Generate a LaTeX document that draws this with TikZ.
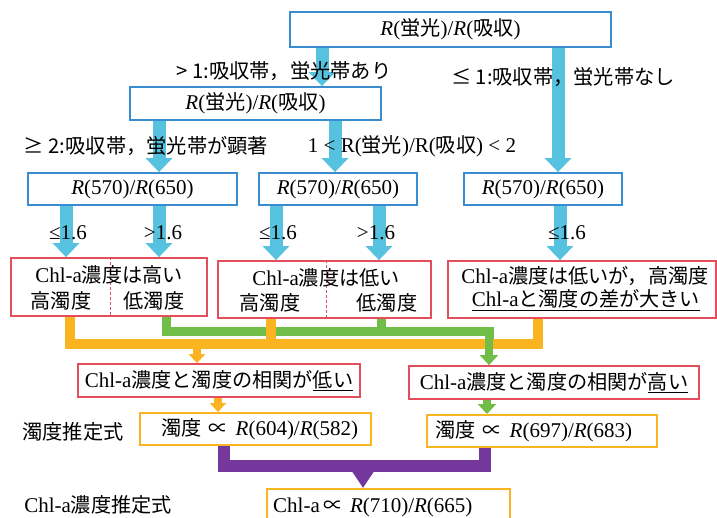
\documentclass[tikz,border=0pt]{standalone}
\usepackage{fontspec}
\setmainfont{Liberation Serif}
\newfontfamily\jp{Noto Sans CJK JP}[Scale=0.96]
\usetikzlibrary{arrows.meta}
\definecolor{bluebd}{RGB}{58,140,208}
\definecolor{arrowblue}{RGB}{86,194,224}
\definecolor{redbd}{RGB}{228,78,92}
\definecolor{orng}{RGB}{250,180,34}
\definecolor{grn}{RGB}{112,190,72}
\definecolor{prpl}{RGB}{116,56,156}
\newcommand\J[1]{{\jp #1}}
\tikzset{
  boxbase/.style={inner sep=0pt, font=\fontsize{21}{24}\selectfont},
  bbox/.style={boxbase, draw=bluebd, line width=1.8pt},
  rbox/.style={boxbase, draw=redbd, line width=1.8pt},
  obox/.style={boxbase, draw=orng, line width=2pt},
  txt/.style={inner sep=0pt, font=\fontsize{21}{24}\selectfont},
  lbl/.style={inner sep=0pt, font=\jp\fontsize{21.1}{24}\selectfont},
  numlbl/.style={inner sep=0pt, font=\fontsize{21}{24}\selectfont},
  barrow/.style={draw=arrowblue, line width=13pt, -{Triangle[width=26pt,length=14pt]}},
  oline/.style={draw=orng, line width=10pt},
  gline/.style={draw=grn, line width=9pt},
  oarrow/.style={draw=orng, line width=8pt, -{Triangle[width=16pt,length=9pt]}},
  garrow/.style={draw=grn, line width=8pt, -{Triangle[width=18pt,length=10pt]}},
  parrow/.style={draw=prpl, line width=12pt, -{Triangle[width=20pt,length=16pt]}},
  pline/.style={draw=prpl, line width=12pt},
  divider/.style={draw=redbd, line width=0.6pt, dash pattern=on 3pt off 2pt},
}
\begin{document}
\begin{tikzpicture}[x=1pt,y=-1pt]
\useasboundingbox[fill=white] (0,0) rectangle (717,518);
\clip (0,0) rectangle (717,518);

% ---- boxes ----
\node[bbox, minimum width=321pt, minimum height=35pt] (top) at (450.5,29.5)
  {\textit{R}(\J{蛍光})/\textit{R}(\J{吸収})};
\node[bbox, minimum width=251pt, minimum height=33pt] (b2) at (255.5,103.5)
  {\textit{R}(\J{蛍光})/\textit{R}(\J{吸収})};
\node[bbox, minimum width=209pt, minimum height=32pt] (b3a) at (132.5,189)
  {\textit{R}(570)/\textit{R}(650)};
\node[bbox, minimum width=158pt, minimum height=32pt] (b3b) at (338,189)
  {\textit{R}(570)/\textit{R}(650)};
\node[bbox, minimum width=158pt, minimum height=32pt] (b3c) at (543,189)
  {\textit{R}(570)/\textit{R}(650)};

\node[rbox, minimum width=196pt, minimum height=58pt] (r4a) at (109,287) {};
\node[rbox, minimum width=213pt, minimum height=57pt] (r4b) at (324.5,289.5) {};
\node[rbox, minimum width=268pt, minimum height=57pt] (r4c) at (582,289.5) {};

\node[rbox, minimum width=282pt, minimum height=33pt] (r5a) at (219,380.5)
  {Chl-a\J{濃度と濁度の相関が}\underline{\J{低い}}};
\node[rbox, minimum width=290pt, minimum height=33pt] (r5b) at (554,382.5)
  {Chl-a\J{濃度と濁度の相関が}\underline{\J{高い}}};

\node[obox, minimum width=231pt, minimum height=32pt] (o6a) at (255.5,429) {};
\node[obox, minimum width=230pt, minimum height=32pt] (o6b) at (542,431) {};
\node[obox, minimum width=243pt, minimum height=42pt] (f7) at (388.5,510) {};

% ---- blue arrows ----
\draw[barrow] (top.south -| 322,0) -- (b2.north -| 322,0);
\draw[barrow] (top.south -| 558,0) -- (b3c.north -| 558,0);
\draw[barrow] (b2.south -| 159,0) -- (b3a.north -| 159,0);
\draw[barrow] (b2.south -| 335,0) -- (b3b.north -| 335,0);
\draw[barrow] (b3a.south -| 66,0) -- (r4a.north -| 66,0);
\draw[barrow] (b3a.south -| 159,0) -- (r4a.north -| 159,0);
\draw[barrow] (b3b.south -| 276,0) -- (r4b.north -| 276,0);
\draw[barrow] (b3b.south -| 379,0) -- (r4b.north -| 379,0);
\draw[barrow] (b3c.south -| 560,0) -- (r4c.north -| 560,0);

% ---- dividers ----
\draw[divider] (r4a.north -| 110,0) -- (r4a.south -| 110,0);
\draw[divider] (r4b.north -| 326,0) -- (r4b.south -| 326,0);

% ---- texts in red boxes ----
\node[txt, anchor=base] (r4a1) at (109,283) {Chl-a\J{濃度は高い}};
\node[txt, anchor=base] (r4a2) at (61,309) {\J{高濁度}};
\node[txt, anchor=base] (r4a3) at (154,309) {\J{低濁度}};
\node[txt, anchor=base] (r4b1) at (326,286) {Chl-a\J{濃度は低い}};
\node[txt, anchor=base] (r4b2) at (270,311) {\J{高濁度}};
\node[txt, anchor=base] (r4b3) at (387,311) {\J{低濁度}};
\node[txt, anchor=base] (r4c1) at (585,284) {Chl-a\J{濃度は低いが，高濁度}};
\node[txt, anchor=base] (r4c2) at (586,307) {\underline{Chl-a\J{と濁度の差が大きい}}};

% ---- green and orange connectors ----
\draw[gline] (r4a.south -| 166,0) -- (166,332) -- (489,332) -- (489,340);
\draw[gline] (r4b.south -| 381,0) -- (381,332);
\draw[oline] (r4a.south -| 70,0) -- (70,344) -- (538,344) -- (r4c.south -| 538,0);
\draw[oline] (r4b.south -| 271,0) -- (271,344);
\draw[oarrow] (197,344) -- (r5a.north -| 197,0);
\draw[garrow] (489,328) -- (r5b.north -| 489,0);

\draw[oarrow] (r5a.south -| 218,0) -- (o6a.north -| 218,0);
\draw[garrow] (r5b.south -| 487,0) -- (o6b.north -| 487,0);

% ---- purple ----
\draw[pline] (o6a.south -| 224,0) -- (224,466) -- (485,466) -- (o6b.south -| 485,0);
\draw[parrow] (363,462) -- (f7.north -| 363,0);

% ---- texts in orange boxes ----
\node[txt, anchor=west] (o6at) at (161,429)
  {\J{濁度}\hspace{7pt}\J{∝}\hspace{7pt}\textit{R}(604)/\textit{R}(582)};
\node[txt, anchor=west] (o6bt) at (435,431)
  {\J{濁度}\hspace{7pt}\J{∝}\hspace{7pt}\textit{R}(697)/\textit{R}(683)};
\node[txt, anchor=base west] (f7t) at (273,512)
  {Chl-a\hspace{4pt}\J{∝}\hspace{6pt}\textit{R}(710)/\textit{R}(665)};

% ---- labels ----
\node[lbl] (l1) at (284,71) {> 1:吸収帯，蛍光帯あり};
\node[lbl] (l2) at (563,77) {≤ 1:吸収帯，蛍光帯なし};
\node[lbl] (l3) at (146,146) {≥ 2:吸収帯，蛍光帯が顕著};
\node[txt] (l4) at (412,146) {1 < R(\J{蛍光})/R(\J{吸収}) < 2};
\node[numlbl] (n1) at (68,233) {≤1.6};
\node[numlbl] (n2) at (163,233) {>1.6};
\node[numlbl] (n3) at (278,233) {≤1.6};
\node[numlbl] (n4) at (376,233) {>1.6};
\node[numlbl] (n5) at (567,233) {≤1.6};
\node[lbl] (l5) at (73,432) {濁度推定式};
\node[txt] (l6) at (98,505) {Chl-a\J{濃度推定式}};
\end{tikzpicture}
\end{document}
